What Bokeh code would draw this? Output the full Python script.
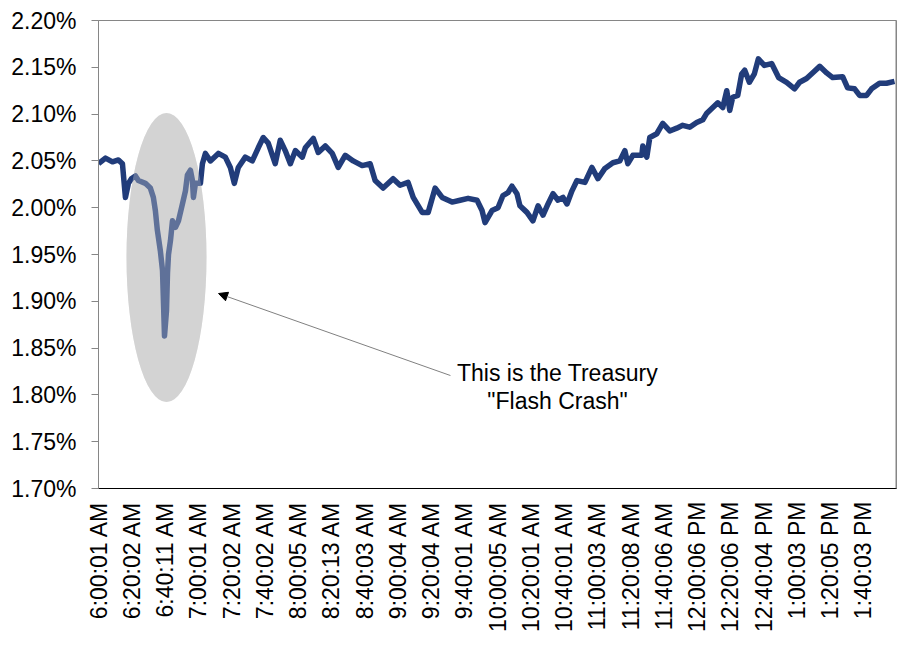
import math
from bokeh.plotting import figure
from bokeh.models import (Range1d, FixedTicker, PrintfTickFormatter, Arrow, NormalHead,
                          Label, ColumnDataSource, Span)
from bokeh.embed import file_html
from bokeh.resources import INLINE

# ---- data: minutes after 6:00 AM, 10-year Treasury yield (%) ----
minutes = [0, 4.2, 8.4, 12.0, 14.4, 16.2, 18.0, 19.8, 22.2, 24.0, 28.2, 31.2, 33.0, 34.2, 35.4,
           37.2, 38.5, 39.1, 39.7, 40.9, 41.5, 42.1, 43.3, 44.5, 46.3, 48.1, 50.5, 52.3, 53.5,
           55.3, 56.5, 57.1, 58.3, 61.3, 62.5, 64.3, 67.3, 72.1, 76.3, 79.3, 81.7, 84.1, 88.3,
           92.5, 96.1, 99.1, 102.1, 106.3, 109.3, 112.3, 115.4, 118.4, 122.6, 124.4, 129.2,
           132.2, 136.4, 140.6, 144.2, 148.4, 153.2, 158.6, 163.4, 166.4, 171.2, 177.2, 181.4,
           186.2, 189.3, 194.7, 198.3, 202.5, 206.7, 212.7, 217.5, 222.3, 227.7, 230.7, 232.5,
           236.7, 240.3, 243.3, 246.3, 248.7, 251.7, 253.5, 257.7, 261.3, 264.4, 267.4, 270.4,
           273.4, 276.4, 279.4, 281.8, 284.8, 287.8, 292.6, 296.8, 300.4, 304.6, 309.4, 313.6,
           316.6, 318.4, 321.4, 326.8, 327.4, 329.8, 331.6, 335.8, 339.4, 343.6, 347.8, 351.4,
           355.6, 359.8, 363.5, 365.9, 368.9, 372.5, 375.5, 377.9, 379.7, 381.5, 384.5, 386.9,
           388.7, 391.5, 394.5, 396.9, 400.5, 404.9, 409.1, 413.9, 418.7, 421.7, 425.9, 429.5,
           433.8, 438.0, 441.6, 447.6, 450.6, 454.8, 457.8, 462.0, 465.0, 469.8, 474.0, 478.8]
yields = [2.047, 2.053, 2.049, 2.051, 2.047, 2.011, 2.026, 2.031, 2.034, 2.029, 2.026, 2.021,
          2.011, 1.997, 1.976, 1.954, 1.933, 1.898, 1.863, 1.890, 1.930, 1.950, 1.965, 1.986,
          1.979, 1.986, 2.004, 2.018, 2.035, 2.040, 2.029, 2.011, 2.026, 2.026, 2.047, 2.058,
          2.050, 2.058, 2.054, 2.043, 2.026, 2.043, 2.054, 2.050, 2.064, 2.075, 2.069, 2.047,
          2.072, 2.061, 2.047, 2.061, 2.054, 2.064, 2.074, 2.059, 2.066, 2.058, 2.043, 2.056,
          2.050, 2.045, 2.047, 2.029, 2.021, 2.031, 2.024, 2.027, 2.011, 1.995, 1.995, 2.021,
          2.011, 2.006, 2.008, 2.010, 2.008, 1.997, 1.984, 1.997, 2.000, 2.013, 2.016, 2.023,
          2.015, 2.002, 1.995, 1.986, 2.002, 1.992, 2.004, 2.015, 2.008, 2.011, 2.004, 2.018,
          2.029, 2.027, 2.043, 2.031, 2.042, 2.048, 2.050, 2.061, 2.047, 2.056, 2.056, 2.066,
          2.054, 2.075, 2.079, 2.090, 2.082, 2.085, 2.088, 2.086, 2.091, 2.094, 2.101, 2.106,
          2.112, 2.107, 2.125, 2.104, 2.118, 2.120, 2.143, 2.147, 2.134, 2.143, 2.159, 2.152,
          2.154, 2.139, 2.134, 2.127, 2.134, 2.138, 2.144, 2.151, 2.144, 2.139, 2.140, 2.128,
          2.127, 2.120, 2.120, 2.127, 2.133, 2.133, 2.135]

tick_minutes = [0, 20, 40, 60, 80, 100, 120, 140, 160, 180, 200, 220, 240, 260, 280, 300,
                320, 340, 360, 380, 400, 420, 440, 460]
tick_labels = ["6:00:01 AM", "6:20:02 AM", "6:40:11 AM", "7:00:01 AM", "7:20:02 AM",
               "7:40:02 AM", "8:00:05 AM", "8:20:13 AM", "8:40:03 AM", "9:00:04 AM",
               "9:20:04 AM", "9:40:01 AM", "10:00:05 AM", "10:20:01 AM", "10:40:01 AM",
               "11:00:03 AM", "11:20:08 AM", "11:40:06 AM", "12:00:06 PM", "12:20:06 PM",
               "12:40:04 PM", "1:00:03 PM", "1:20:05 PM", "1:40:03 PM"]
y_ticks = [1.70, 1.75, 1.80, 1.85, 1.90, 1.95, 2.00, 2.05, 2.10, 2.15, 2.20]

FONT = "Liberation Sans"
NAVY = "#213C7A"
GRAY = "#D3D3D3"

p = figure(width=900, height=646, output_backend="svg", toolbar_location=None,
           x_range=Range1d(0, 480), y_range=Range1d(1.70, 2.20),
           min_border_left=98, min_border_right=4, min_border_top=20, min_border_bottom=158)
p.background_fill_color = "white"
p.border_fill_color = "white"
p.outline_line_color = "#868686"
p.outline_line_width = 1
p.xgrid.visible = False
p.ygrid.visible = False

# ellipse highlight (under the line)
ell_x = [40.9]
ell_y = [1.9468]
p.ellipse(x=ell_x, y=ell_y, width=80, height=289, width_units="screen", height_units="screen",
          fill_color=GRAY, line_color=None)

src = ColumnDataSource(data=dict(x=minutes, y=yields))
p.line("x", "y", source=src, line_color=NAVY, line_width=5.5, line_join="round")

# translucent ellipse on top so the crash looks faded
p.ellipse(x=ell_x, y=ell_y, width=80, height=289, width_units="screen", height_units="screen",
          fill_color=GRAY, fill_alpha=0.35, line_color=None)

# slightly heavier right border as in the original
p.add_layout(Span(location=480, dimension="height", line_color="#868686", line_width=2))

# axes
p.xaxis.ticker = FixedTicker(ticks=tick_minutes)
p.xaxis.major_label_overrides = {t: l for t, l in zip(tick_minutes, tick_labels)}
p.xaxis.major_label_orientation = math.pi / 2
p.xaxis.major_tick_line_color = None
p.xaxis.minor_tick_line_color = None
p.xaxis.axis_line_color = "black"
p.xaxis.axis_line_width = 1
p.xaxis.major_label_standoff = 7
p.xaxis.major_label_text_font = FONT
p.xaxis.major_label_text_font_size = "23px"
p.xaxis.major_label_text_color = "black"

p.yaxis.ticker = FixedTicker(ticks=y_ticks)
p.yaxis.formatter = PrintfTickFormatter(format="%.2f%%")
p.yaxis.axis_line_color = "#868686"
p.yaxis.major_tick_line_color = "#868686"
p.yaxis.major_tick_out = 7
p.yaxis.major_tick_in = 0
p.yaxis.minor_tick_line_color = None
p.yaxis.major_label_standoff = 15
p.yaxis.major_label_text_font = FONT
p.yaxis.major_label_text_font_size = "23px"
p.yaxis.major_label_text_color = "black"

# annotation
p.add_layout(Arrow(end=NormalHead(size=9, fill_color="black", line_color="black"),
                   x_start=211.7, y_start=1.8207, x_end=72.2, y_end=1.9083,
                   line_color="#808080", line_width=1))
p.add_layout(Label(x=276.1, y=1.8229, text="This is the Treasury", text_align="center",
                   text_baseline="alphabetic", text_font=FONT, text_font_size="23px",
                   text_color="black"))
p.add_layout(Label(x=276.1, y=1.7940, text='"Flash Crash"', text_align="center",
                   text_baseline="alphabetic", text_font=FONT, text_font_size="23px",
                   text_color="black"))

open("out.html", "w").write(file_html(p, INLINE))
